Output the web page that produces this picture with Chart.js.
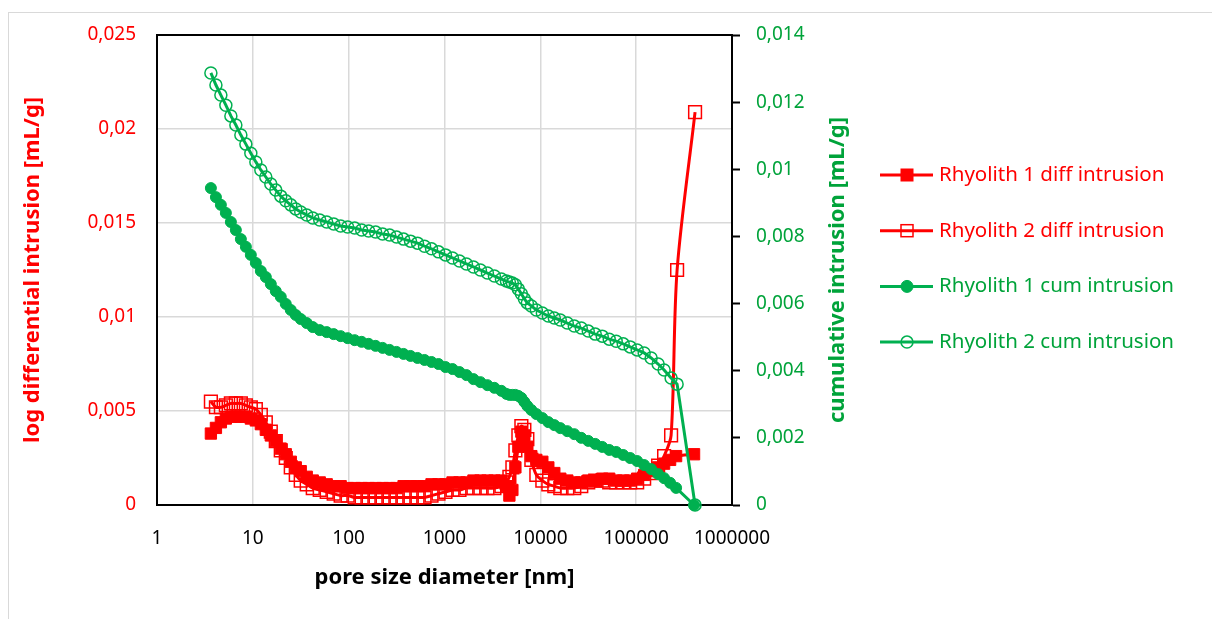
<!DOCTYPE html>
<html>
<head>
<meta charset="utf-8">
<script src="https://cdn.jsdelivr.net/npm/chart.js@4.4.1/dist/chart.umd.min.js"></script>
<style>
  html, body { margin: 0; padding: 0; background: #fff; }
  #wrap { position: relative; width: 1212px; height: 619px; }
</style>
</head>
<body>
<div id="wrap"><canvas id="myChart"></canvas></div>
<script>
// pore size diameter [nm]
const r1Size = [3.65, 4.12, 4.64, 5.23, 5.90, 6.65, 7.50, 8.46, 9.53, 10.75,
  12.12, 13.66, 15.40, 17.36, 19.57, 22.07, 24.88, 28.05, 31.6, 36.5,
  42.2, 49.9, 59.0, 69.8, 82.5, 97.6, 115.5, 136.6, 161.6, 191.1,
  226.1, 267.4, 316, 374, 442, 523, 619, 732, 866, 1024,
  1212, 1433, 1695, 2005, 2371, 2805, 3318, 3925, 4424, 4754,
  5109, 5490, 5900, 6340, 6813, 7321, 8058, 9085, 10491, 12115,
  13990, 16155, 19107, 22607, 26738, 31623, 37405, 44240, 52340, 61910,
  73210, 86600, 102400, 121150, 143300, 169500, 195700, 226100, 261000, 401900];
const r2Size = [3.65, 4.12, 4.64, 5.23, 5.90, 6.65, 7.50, 8.46, 9.53, 10.75,
  12.12, 13.66, 15.40, 17.36, 19.57, 22.07, 24.88, 28.05, 31.6, 36.5,
  42.2, 49.9, 59.0, 69.8, 82.5, 97.6, 115.5, 136.6, 161.6, 191.1,
  226.1, 267.4, 316, 374, 442, 523, 619, 732, 866, 1024,
  1212, 1433, 1695, 2005, 2371, 2805, 3318, 3925, 4424, 4754,
  5109, 5490, 5900, 6340, 6813, 7321, 8058, 9085, 10491, 12115,
  13990, 16155, 19107, 22607, 26738, 31623, 37405, 44240, 52340, 61910,
  73210, 86600, 102400, 121150, 143300, 169500, 195700, 231500, 267400, 411700];

// log differential intrusion [mL/g]
const r1Diff = [0.0038, 0.0041, 0.0044, 0.0046, 0.0047, 0.0047, 0.0047, 0.0047, 0.0046, 0.0045,
  0.0043, 0.0040, 0.0037, 0.0034, 0.0030, 0.0027, 0.0023, 0.0020, 0.0018, 0.0015,
  0.0013, 0.0012, 0.0011, 0.0010, 0.0010, 0.0009, 0.0009, 0.0009, 0.0009, 0.0009,
  0.0009, 0.0009, 0.0009, 0.0010, 0.0010, 0.0010, 0.0010, 0.0011, 0.0011, 0.0011,
  0.0012, 0.0012, 0.0012, 0.0013, 0.0013, 0.0013, 0.0013, 0.0013, 0.0010, 0.0005,
  0.0008, 0.0020, 0.0031, 0.0039, 0.0037, 0.0031, 0.0026, 0.0024, 0.0023, 0.0020,
  0.0017, 0.0014, 0.0013, 0.0012, 0.0012, 0.0013, 0.0013, 0.0014, 0.0014, 0.0013,
  0.0013, 0.0013, 0.0014, 0.0016, 0.0018, 0.0020, 0.0022, 0.0024, 0.0026, 0.0027];
const r2Diff = [0.0055, 0.0052, 0.0052, 0.0053, 0.0054, 0.0054, 0.0054, 0.0053, 0.0052, 0.0051,
  0.0048, 0.0044, 0.0039, 0.0034, 0.0029, 0.0025, 0.0020, 0.0016, 0.0013, 0.0011,
  0.0009, 0.0008, 0.0007, 0.0006, 0.0005, 0.0005, 0.0004, 0.0004, 0.0004, 0.0004,
  0.0004, 0.0004, 0.0004, 0.0004, 0.0004, 0.0004, 0.0004, 0.0005, 0.0006, 0.0007,
  0.0008, 0.0008, 0.0009, 0.0009, 0.0009, 0.0009, 0.0009, 0.0010, 0.0012, 0.0015,
  0.0020, 0.0029, 0.0037, 0.0042, 0.0040, 0.0035, 0.0024, 0.0016, 0.0013, 0.0011,
  0.0010, 0.0009, 0.0009, 0.0009, 0.0010, 0.0012, 0.0013, 0.0013, 0.0012, 0.0012,
  0.0012, 0.0012, 0.0012, 0.0014, 0.0017, 0.0021, 0.0026, 0.0037, 0.0125, 0.0209];

// cumulative intrusion [mL/g]
const r1Cum = [0.00944, 0.00917, 0.00894, 0.00870, 0.00843, 0.00819, 0.00792, 0.00769, 0.00745, 0.00721,
  0.00697, 0.00679, 0.00658, 0.00637, 0.00620, 0.00599, 0.00581, 0.00566, 0.00554, 0.00542,
  0.00530, 0.00521, 0.00515, 0.00509, 0.00503, 0.00497, 0.00491, 0.00486, 0.00480, 0.00474,
  0.00468, 0.00462, 0.00456, 0.00450, 0.00444, 0.00438, 0.00432, 0.00426, 0.00420, 0.00411,
  0.00405, 0.00396, 0.00387, 0.00375, 0.00366, 0.00357, 0.00349, 0.00340, 0.00331, 0.00328,
  0.00328, 0.00328, 0.00325, 0.00319, 0.00307, 0.00295, 0.00283, 0.00271, 0.00259, 0.00247,
  0.00238, 0.00229, 0.00220, 0.00211, 0.00200, 0.00191, 0.00182, 0.00173, 0.00164, 0.00158,
  0.00149, 0.00140, 0.00131, 0.00119, 0.00107, 0.00092, 0.00080, 0.00066, 0.00051, 0];
const r2Cum = [0.01287, 0.01251, 0.01221, 0.01191, 0.01159, 0.01132, 0.01102, 0.01075, 0.01048, 0.01022,
  0.00998, 0.00977, 0.00956, 0.00938, 0.00920, 0.00906, 0.00894, 0.00882, 0.00873, 0.00864,
  0.00855, 0.00849, 0.00843, 0.00837, 0.00831, 0.00828, 0.00825, 0.00819, 0.00816, 0.00813,
  0.00807, 0.00804, 0.00798, 0.00792, 0.00786, 0.00780, 0.00771, 0.00763, 0.00754, 0.00745,
  0.00736, 0.00727, 0.00718, 0.00709, 0.00700, 0.00691, 0.00682, 0.00673, 0.00667, 0.00664,
  0.00661, 0.00656, 0.00643, 0.00629, 0.00614, 0.00602, 0.00593, 0.00581, 0.00572, 0.00563,
  0.00557, 0.00551, 0.00542, 0.00533, 0.00527, 0.00518, 0.00509, 0.00503, 0.00494, 0.00488,
  0.00480, 0.00471, 0.00462, 0.00453, 0.00438, 0.00420, 0.00402, 0.00378, 0.00360, 0];

const xTicks = [1, 10, 100, 1000, 10000, 100000, 1000000];

const red = "#ff0000";
const green = "#00b050";
const greenText = "#00a33a";
const fontFamily = "'Noto Sans', sans-serif";

Chart.defaults.font.family = fontFamily;

function points(xs, ys) {
  return xs.map((x, i) => ({ x: x, y: ys[i] }));
}

function comma(v) {
  return String(Math.round(v * 10000) / 10000).replace(".", ",");
}

const extras = {
  id: "extras",
  beforeDraw(chart) {
    const c = chart.ctx;
    c.save();
    c.fillStyle = "#fff";
    c.fillRect(0, 0, chart.width, chart.height);
    c.strokeStyle = "#d9d9d9";
    c.lineWidth = 1;
    c.strokeRect(8.5, 12.5, chart.width, chart.height);
    c.restore();
  },
  afterDraw(chart) {
    const c = chart.ctx;
    const a = chart.chartArea;
    c.save();
    // top border of plot area
    c.strokeStyle = "#000";
    c.lineWidth = 2;
    c.beginPath();
    c.moveTo(a.left - 1, a.top);
    c.lineTo(a.right + 1, a.top);
    c.stroke();

    // right axis title, reading bottom to top
    c.translate(838, (a.top + a.bottom) / 2);
    c.rotate(-Math.PI / 2);
    c.fillStyle = greenText;
    c.font = "bold 22px " + fontFamily;
    c.textAlign = "center";
    c.textBaseline = "middle";
    c.fillText("cumulative intrusion [mL/g]", 0, 0);
    c.restore();

    // legend
    c.save();
    chart.data.datasets.forEach((ds, i) => {
      const y = 175 + i * 55.7;
      c.strokeStyle = ds.borderColor;
      c.lineWidth = 3;
      c.beginPath();
      c.moveTo(880, y);
      c.lineTo(933, y);
      c.stroke();
      c.lineWidth = ds.pointBorderWidth;
      c.strokeStyle = ds.pointBorderColor;
      c.fillStyle = ds.pointBackgroundColor;
      if (ds.pointStyle === "rect") {
        c.fillRect(901, y - 6, 12, 12);
        c.strokeRect(901, y - 6, 12, 12);
      } else {
        c.beginPath();
        c.arc(907, y, 6, 0, Math.PI * 2);
        c.fill();
        c.stroke();
      }
      c.fillStyle = ds.textColor;
      c.font = "20.5px " + fontFamily;
      c.textAlign = "left";
      c.textBaseline = "middle";
      c.fillText(ds.label, 939, y);
    });
    c.restore();
  }
};

const ctx = document.getElementById("myChart");

new Chart(ctx, {
  type: "line",
  data: {
    datasets: [
      {
        label: "Rhyolith 1 diff intrusion",
        data: points(r1Size, r1Diff),
        yAxisID: "y",
        borderColor: red,
        backgroundColor: red,
        textColor: red,
        borderWidth: 3,
        tension: 0.3,
        pointStyle: "rect",
        pointRadius: 8,
        pointBorderWidth: 1,
        pointBorderColor: red,
        pointBackgroundColor: red,
        clip: false,
        order: 4,
      },
      {
        label: "Rhyolith 2 diff intrusion",
        data: points(r2Size, r2Diff),
        yAxisID: "y",
        borderColor: red,
        backgroundColor: red,
        textColor: red,
        borderWidth: 3,
        tension: 0.3,
        pointStyle: "rect",
        pointRadius: 9,
        pointBorderWidth: 1.5,
        pointBorderColor: red,
        pointBackgroundColor: "rgba(0,0,0,0)",
        clip: false,
        order: 3,
      },
      {
        label: "Rhyolith 1 cum intrusion",
        data: points(r1Size, r1Cum),
        yAxisID: "y1",
        borderColor: green,
        backgroundColor: green,
        textColor: greenText,
        borderWidth: 3,
        tension: 0,
        pointStyle: "circle",
        pointRadius: 5.5,
        pointBorderWidth: 1,
        pointBorderColor: green,
        pointBackgroundColor: green,
        clip: false,
        order: 2,
      },
      {
        label: "Rhyolith 2 cum intrusion",
        data: points(r2Size, r2Cum),
        yAxisID: "y1",
        borderColor: green,
        backgroundColor: green,
        textColor: greenText,
        borderWidth: 3,
        tension: 0,
        pointStyle: "circle",
        pointRadius: 6,
        pointBorderWidth: 1.5,
        pointBorderColor: green,
        pointBackgroundColor: "rgba(0,0,0,0)",
        clip: false,
        order: 1,
      },
    ],
  },
  options: {
    responsive: true,
    maintainAspectRatio: false,
    animation: false,
    events: [],
    layout: { padding: { top: 35, right: 330, bottom: 0, left: 0 } },
    plugins: {
      legend: { display: false },
      tooltip: { enabled: false },
    },
    scales: {
      x: {
        type: "logarithmic",
        min: 1,
        max: 1000000,
        afterBuildTicks(s) {
          s.ticks = xTicks.map((v) => ({ value: v }));
        },
        afterFit(s) {
          s.height = 114;
        },
        ticks: {
          callback: (v) => String(v),
          color: "#000",
          font: { size: 19 },
          padding: 22,
          maxRotation: 0,
          autoSkip: false,
        },
        grid: { color: "#d9d9d9", lineWidth: 1.5, drawTicks: false },
        border: { color: "#000", width: 2 },
        title: {
          display: true,
          text: "pore size diameter [nm]",
          color: "#000",
          font: { size: 22, weight: "bold" },
          padding: { top: 0, bottom: 28 },
        },
      },
      y: {
        position: "left",
        min: 0,
        max: 0.025,
        afterFit(s) {
          s.width = 157;
        },
        ticks: {
          stepSize: 0.005,
          callback: (v) => comma(v),
          color: red,
          font: { size: 19 },
          padding: 21,
        },
        grid: { color: "#d9d9d9", lineWidth: 1.5, drawTicks: false },
        border: { color: "#000", width: 2 },
        title: {
          display: true,
          text: "log differential intrusion [mL/g]",
          color: red,
          font: { size: 22, weight: "bold" },
          padding: { top: 20, bottom: 0 },
        },
      },
      y1: {
        position: "right",
        min: 0,
        max: 0.014,
        afterFit(s) {
          s.width = 150;
        },
        ticks: {
          stepSize: 0.002,
          callback: (v) => comma(v),
          color: greenText,
          font: { size: 19 },
          padding: 16,
        },
        grid: {
          drawOnChartArea: false,
          drawTicks: true,
          tickLength: 8,
          tickColor: "#000",
          tickWidth: 2,
        },
        border: { color: "#000", width: 2 },
      },
    },
  },
  plugins: [extras],
});
</script>
</body>
</html>
